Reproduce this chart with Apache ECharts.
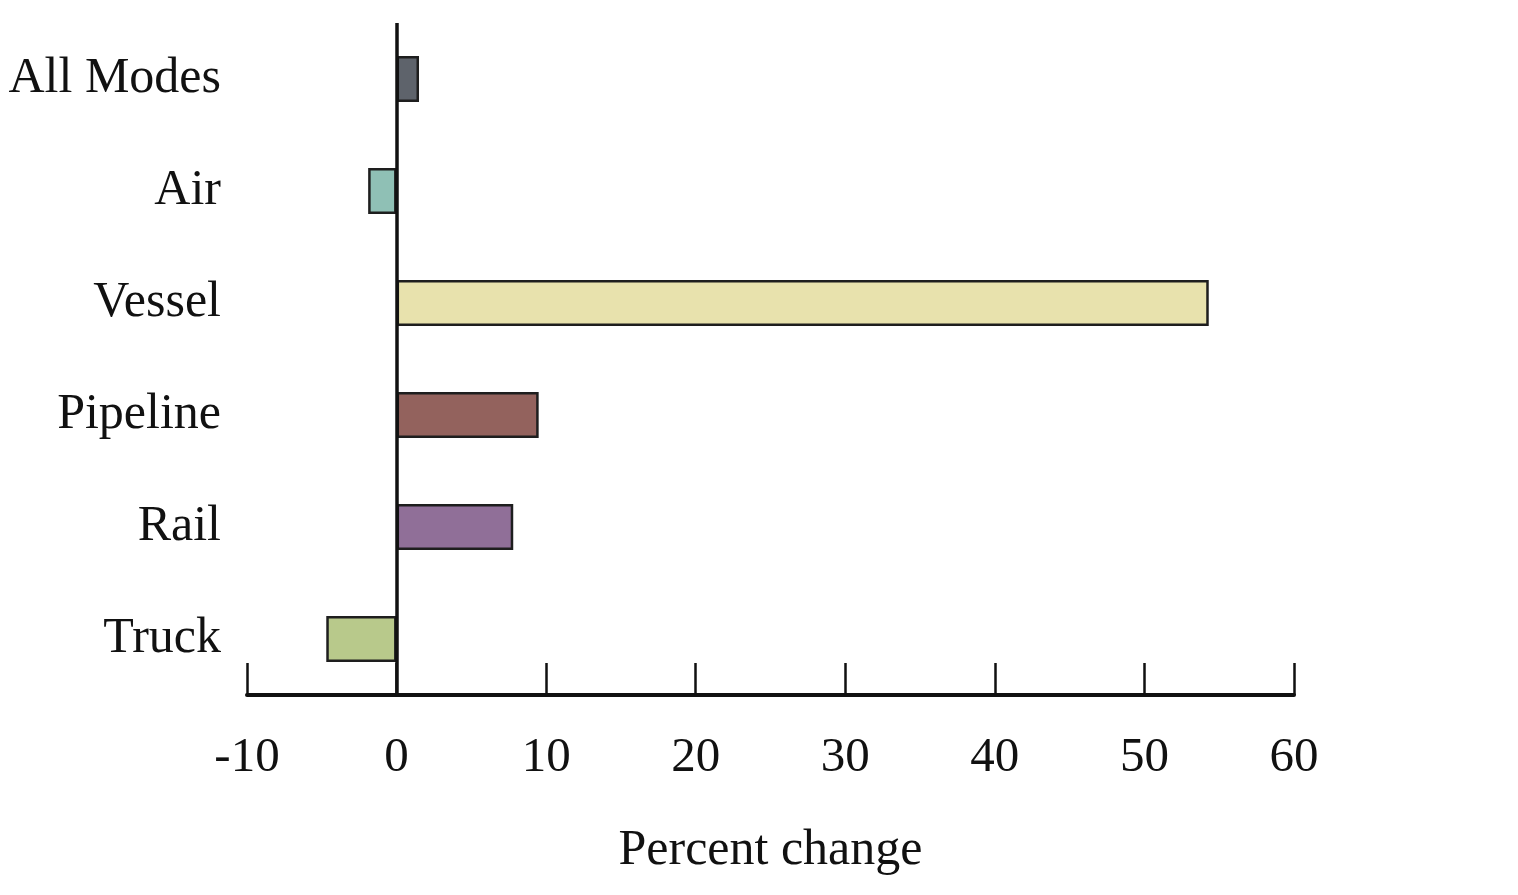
<!DOCTYPE html>
<html>
<head>
<meta charset="utf-8">
<title>Percent change by mode</title>
<script src="https://cdn.jsdelivr.net/npm/echarts@6/dist/echarts.min.js"></script>
<style>
  html, body { margin: 0; padding: 0; background: #fff; }
  #chart { width: 1518px; height: 895px; }
</style>
</head>
<body>
<div id="chart"></div>
<script>
// data
const categories = ['All Modes', 'Air', 'Vessel', 'Pipeline', 'Rail', 'Truck']
const values = [1.5, -1.9, 54.3, 9.5, 7.8, -4.7]
const xTicks = [-10, 0, 10, 20, 30, 40, 50, 60]

const barColors = ['#5e636b', '#8fc0b5', '#e8e2ad', '#93625d', '#906f98', '#b8c98b']
const font = "'Liberation Serif', 'Times New Roman', serif"
const ink = '#111'

const chart = echarts.init(document.getElementById('chart'))

const option = {
  animation: false,
  grid: { left: 247, right: 224, top: 23, bottom: 200, containLabel: false },
  xAxis: {
    type: 'value',
    min: xTicks[0],
    max: xTicks[xTicks.length - 1],
    interval: 10,
    name: 'Percent change',
    nameLocation: 'middle',
    nameGap: 131,
    nameTextStyle: { fontFamily: font, fontSize: 50, color: ink },
    axisLine: { show: true, onZero: false, lineStyle: { color: ink, width: 4 } },
    axisTick: { show: true, inside: true, length: 32, lineStyle: { color: ink, width: 2.5 } },
    axisLabel: { fontFamily: font, fontSize: 49, color: ink, margin: 39 },
    splitLine: { show: false }
  },
  yAxis: {
    type: 'category',
    data: categories,
    inverse: true,
    axisLine: { show: false },
    axisTick: { show: false },
    axisLabel: {
      fontFamily: font,
      fontSize: 50,
      color: ink,
      margin: 26,
      padding: [0, 0, 8, 0]
    }
  },
  series: [
    {
      type: 'bar',
      barWidth: 46,
      data: values.map((v, i) => ({
        value: v,
        itemStyle: { color: barColors[i] }
      })),
      itemStyle: { borderColor: '#1e1e1e', borderWidth: 2.5 },
      markLine: {
        silent: true,
        symbol: 'none',
        label: { show: false },
        lineStyle: { color: ink, width: 3.5, type: 'solid' },
        data: [{ xAxis: 0 }]
      }
    }
  ]
}

chart.setOption(option)
window.addEventListener('resize', function () {
  chart.resize()
})
</script>
</body>
</html>
